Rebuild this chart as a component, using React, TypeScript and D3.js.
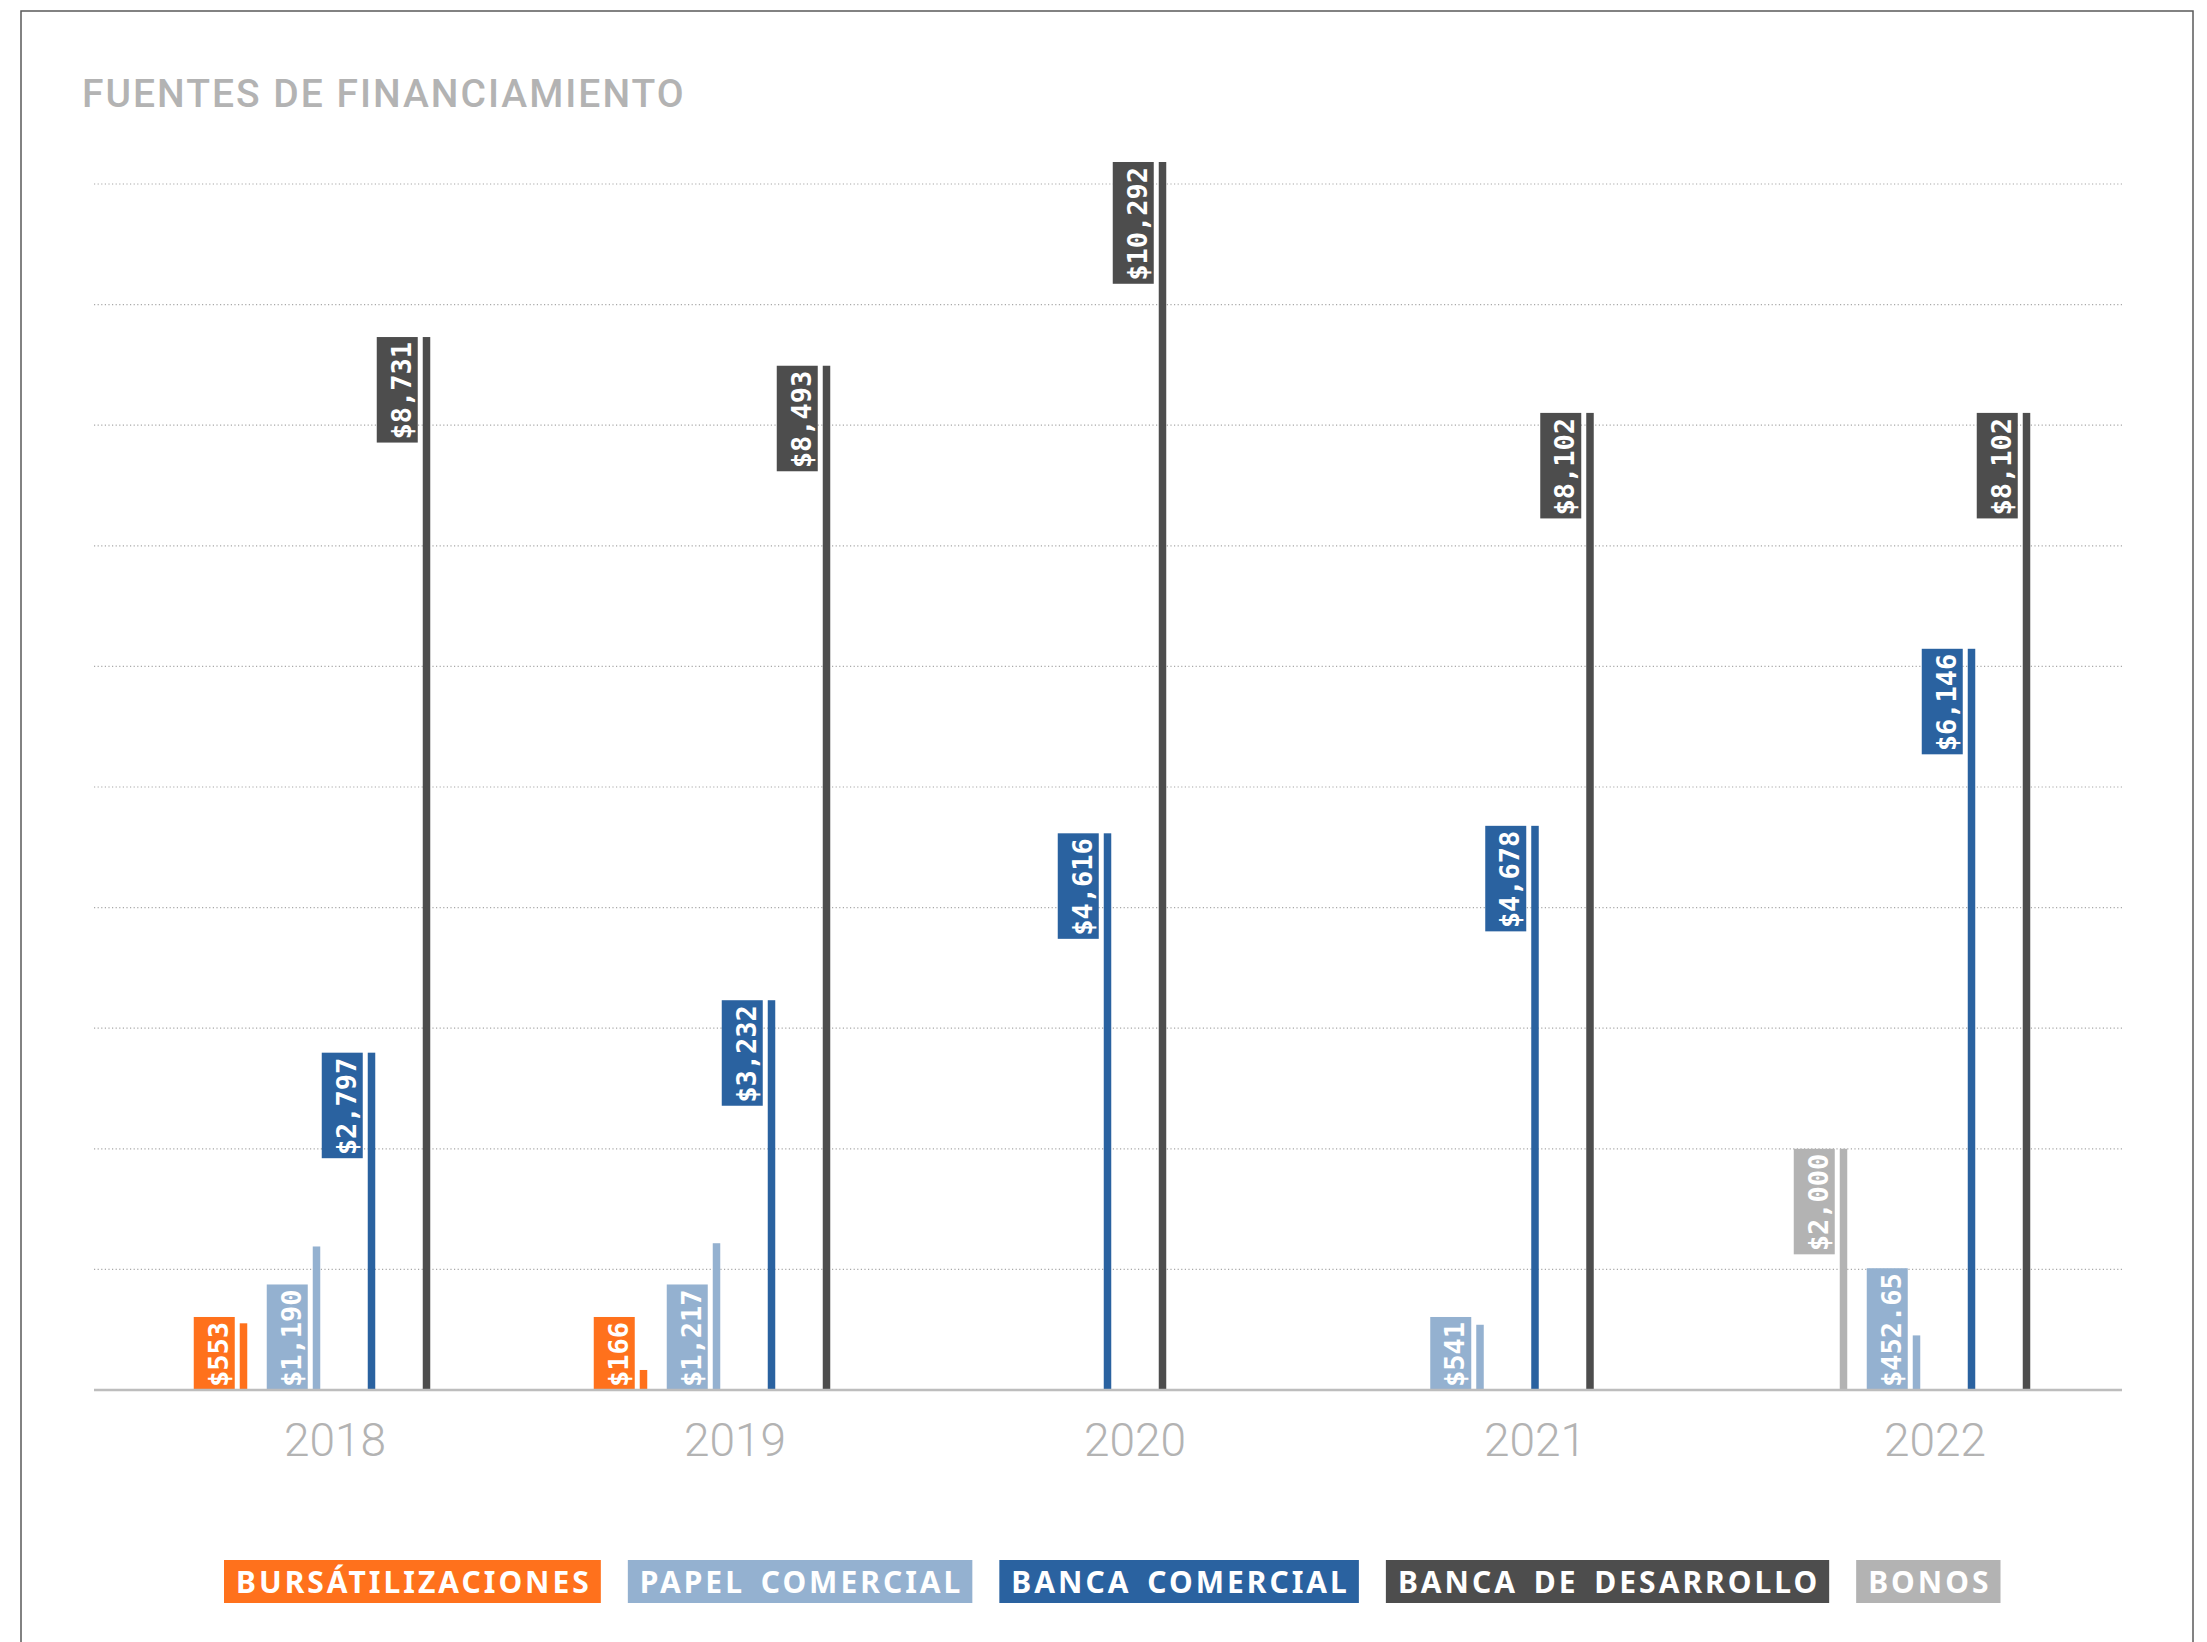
import React from "react";
import * as d3 from "d3";

const years = ["2018", "2019", "2020", "2021", "2022"];
const bursatilizaciones = [553, 166, null, null, null];
const papelComercial = [1190, 1217, null, 541, 452.65];
const bancaComercial = [2797, 3232, 4616, 4678, 6146];
const bancaDesarrollo = [8731, 8493, 10292, 8102, 8102];
const bonos = [null, null, null, null, 2000];

const legendNames = ["BURSÁTILIZACIONES", "PAPEL COMERCIAL", "BANCA COMERCIAL", "BANCA DE DESARROLLO", "BONOS"];
const legendColors = ["#FF711C", "#94B1D0", "#2A62A0", "#4D4D4D", "#B3B3B3"];
const gridValues = [1000, 2000, 3000, 4000, 5000, 6000, 7000, 8000, 9000, 10000];

// drawing order within a group; lead series take the first slot
const groupSeries = [
  { values: bursatilizaciones, color: legendColors[0], lead: true },
  { values: bonos, color: legendColors[4], lead: true },
  { values: papelComercial, color: legendColors[1], lead: false },
  { values: bancaComercial, color: legendColors[2], lead: false },
  { values: bancaDesarrollo, color: legendColors[3], lead: false },
];

const W = 2207;
const H = 1642;

function measure(text: string, font: string) {
  const c = document.createElement("canvas").getContext("2d");
  if (!c) return text.length * 18;
  c.font = font;
  return c.measureText(text).width;
}

export default function App() {
  const x = d3.scalePoint<string>().domain(years).range([335, 1935]);
  const y = d3.scaleLinear().domain([0, 10000]).range([1390, 184]);
  const y0 = y(0);
  const plotTop = 162;
  const plotLeft = 94;
  const plotRight = 2122;
  const step = 55;
  const leadGap = 18;
  const bw = 7.5;
  const boxW = 41;
  const boxGap = 5;
  const labelFont = 27;
  const fmt = d3.format(",");

  const marks: any[] = [];
  years.forEach((yr, i) => {
    const present = groupSeries.filter((s) => s.values[i] != null);
    const pos: number[] = [];
    let acc = 0;
    present.forEach((s, k) => {
      if (k > 0) acc += step + (present[k - 1].lead ? leadGap : 0);
      pos.push(acc);
    });
    const mid = acc / 2;
    present.forEach((s, k) => {
      const v = s.values[i] as number;
      const cx = (x(yr) as number) + pos[k] - mid;
      const top = Math.max(y(v), plotTop);
      const label = "$" + fmt(v);
      const boxH = label.length * 0.602 * labelFont + 8;
      const barH = y0 - top;
      const boxTop = barH >= 2 * boxH ? top : y0 - boxH;
      const boxRight = cx - bw / 2 - boxGap;
      marks.push({ key: yr + "-" + k, cx, top, label, boxH, boxTop, boxRight, color: s.color });
    });
  });

  const legendFont = "bold 30px 'Noto Sans'";
  const ls = 3;
  const ws = 5;
  const pad = 12;
  let lx = 224;
  const legendItems = legendNames.map((name, i) => {
    const spaces = name.split(" ").length - 1;
    const tw = measure(name, legendFont) + ls * (name.length - 1) + ws * spaces;
    const item = { name, color: legendColors[i], x: lx, w: tw + pad * 2 };
    lx += tw + pad * 2 + 27;
    return item;
  });

  return (
    <svg
      width={W}
      height={H}
      style={{ position: "absolute", left: 0, top: 0, background: "#fff" }}
    >
      <rect x={0} y={0} width={W} height={H} fill="#fff" />
      <rect x={21} y={11} width={2172} height={1700} fill="none" stroke="#5a5a5a" strokeWidth={1.5} />
      <text
        x={82}
        y={107}
        fontFamily="Roboto"
        fontSize={39}
        fontWeight={500}
        letterSpacing={2}
        fill="#B3B3B3"
      >
        FUENTES DE FINANCIAMIENTO
      </text>

      {gridValues.map((g) => (
        <line
          key={g}
          x1={plotLeft}
          x2={plotRight}
          y1={y(g)}
          y2={y(g)}
          stroke="#A8A8A8"
          strokeWidth={1.2}
          strokeDasharray="1.2,2.4"
        />
      ))}

      {marks.map((m) => (
        <g key={m.key}>
          <rect x={m.cx - bw / 2} y={m.top} width={bw} height={y0 - m.top} fill={m.color} />
          <rect x={m.boxRight - boxW} y={m.boxTop} width={boxW} height={m.boxH} fill={m.color} />
          <text
            transform={`translate(${m.boxRight - 7},${m.boxTop + m.boxH / 2 + 1}) rotate(-90)`}
            textAnchor="middle"
            fontFamily="'DejaVu Sans Mono'"
            fontWeight="bold"
            fontSize={labelFont}
            fill="#fff"
          >
            {m.label}
          </text>
        </g>
      ))}

      <line x1={plotLeft} x2={plotRight} y1={y0} y2={y0} stroke="#BDBDBD" strokeWidth={2.5} />

      {years.map((yr) => (
        <text
          key={yr}
          x={x(yr)}
          y={1456}
          textAnchor="middle"
          fontFamily="Roboto"
          fontWeight={300}
          fontSize={46}
          fill="#B3B3B3"
        >
          {yr}
        </text>
      ))}

      {legendItems.map((it) => (
        <g key={it.name}>
          <rect x={it.x} y={1560} width={it.w} height={43} fill={it.color} />
          <text
            x={it.x + pad}
            y={1593}
            fontFamily="'Noto Sans'"
            fontWeight="bold"
            fontSize={30}
            letterSpacing={ls}
            wordSpacing={ws}
            fill="#fff"
          >
            {it.name}
          </text>
        </g>
      ))}
    </svg>
  );
}
